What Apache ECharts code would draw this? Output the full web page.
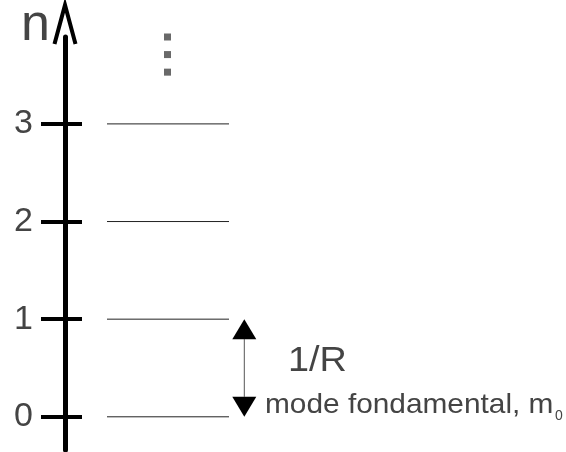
<!DOCTYPE html>
<html>
<head>
<meta charset="utf-8">
<script src="https://cdn.jsdelivr.net/npm/echarts@6/dist/echarts.min.js"></script>
<style>
    html, body { margin: 0; padding: 0; background: #fff; }
    #levels { width: 566px; height: 452px; }
</style>
</head>
<body>
<div id="levels"></div>
<script>
// niveaux n (modes), graduations de l'axe
const levels = [0, 1, 2, 3];
const tickLabels = ["0", "1", "2", "3"];
// points de suspension au-dessus du niveau 3
const ellipsisY = [3.89, 3.71, 3.53];
// écart entre n=0 et n=1
const gap = [0, 1];
const gapLabel = "1/R";
const fundLabel = "mode fondamental, m";
const fundSub = "0";

const FONT = "Liberation Sans";
const chart = echarts.init(document.getElementById("levels"));

const yBase = {
    type: "value",
    min: -0.34,
    max: 3.89,
    position: "left",
    splitLine: { show: false },
};

chart.setOption({
    backgroundColor: "#fff",
    animation: false,
    grid: { left: 65, right: 1, top: 37, bottom: 2 },
    xAxis: { type: "value", min: 0, max: 500, show: false },
    yAxis: [
        Object.assign({}, yBase, {
            axisLine: { show: true, lineStyle: { color: "#000", width: 5 } },
            axisTick: {
                show: true,
                customValues: levels,
                length: 24,
                lineStyle: { color: "#000", width: 4 },
            },
            axisLabel: {
                customValues: levels,
                formatter: (v) => tickLabels[levels.indexOf(v)],
                margin: 32,
                fontSize: 34,
                color: "#444",
                fontFamily: FONT,
            },
        }),
        Object.assign({}, yBase, {
            axisLine: { show: false },
            axisTick: {
                show: true,
                inside: true,
                customValues: levels,
                length: 17,
                lineStyle: { color: "#000", width: 4 },
            },
            axisLabel: { show: false },
        }),
    ],
    series: [
        {
            // traits horizontaux des niveaux
            type: "custom",
            silent: true,
            data: levels.map((v) => [42, v, 164]),
            renderItem: (params, api) => {
                const a = api.coord([api.value(0), api.value(1)]);
                const b = api.coord([api.value(2), api.value(1)]);
                return {
                    type: "line",
                    shape: { x1: a[0], y1: a[1], x2: b[0], y2: b[1] },
                    style: { stroke: "#222", lineWidth: 1 },
                };
            },
        },
        {
            // flèche double 1/R
            type: "custom",
            silent: true,
            data: [[179.3, gap[0], gap[1]]],
            renderItem: (params, api) => {
                const lo = api.coord([api.value(0), api.value(1)]);
                const hi = api.coord([api.value(0), api.value(2)]);
                const x = lo[0], w = 12, h = 20;
                return {
                    type: "group",
                    children: [
                        {
                            type: "line",
                            shape: { x1: x, y1: hi[1] + h, x2: x, y2: lo[1] - h },
                            style: { stroke: "#555", lineWidth: 1 },
                        },
                        {
                            type: "polygon",
                            shape: { points: [[x, hi[1]], [x - w, hi[1] + h], [x + w, hi[1] + h]] },
                            style: { fill: "#000" },
                        },
                        {
                            type: "polygon",
                            shape: { points: [[x, lo[1]], [x - w, lo[1] - h], [x + w, lo[1] - h]] },
                            style: { fill: "#000" },
                        },
                    ],
                };
            },
        },
        {
            type: "scatter",
            symbol: "rect",
            symbolSize: 7,
            itemStyle: { color: "#444" },
            data: ellipsisY.map((y) => [102.5, y]),
        },
    ],
});

// pointe de flèche ouverte en haut de l'axe
const axisTop = chart.convertToPixel({ gridIndex: 0 }, [0, 3.89]);
chart.setOption({
    graphic: [
        {
            type: "polyline",
            shape: { points: [[axisTop[0] - 10.5, axisTop[1] + 7], [axisTop[0], axisTop[1] - 32], [axisTop[0] + 10.5, axisTop[1] + 7]] },
            style: { stroke: "#000", lineWidth: 4, fill: null, lineJoin: "miter" },
        },
        {
            type: "text",
            x: 21, y: 26,
            style: { text: "n", fontSize: 52, fontFamily: FONT, fill: "#444", verticalAlign: "middle" },
        },
        {
            type: "text",
            x: 288, y: 361, scaleX: 1.08,
            style: { text: gapLabel, fontSize: 35, fontFamily: FONT, fill: "#444", verticalAlign: "middle" },
        },
        {
            type: "text",
            x: 265, y: 405, scaleX: 1.065,
            style: { text: fundLabel, fontSize: 28, fontFamily: FONT, fill: "#444", verticalAlign: "middle" },
        },
        {
            type: "text",
            x: 555, y: 416,
            style: { text: fundSub, fontSize: 14, fontFamily: FONT, fill: "#444", verticalAlign: "middle" },
        },
    ],
});
</script>
</body>
</html>
